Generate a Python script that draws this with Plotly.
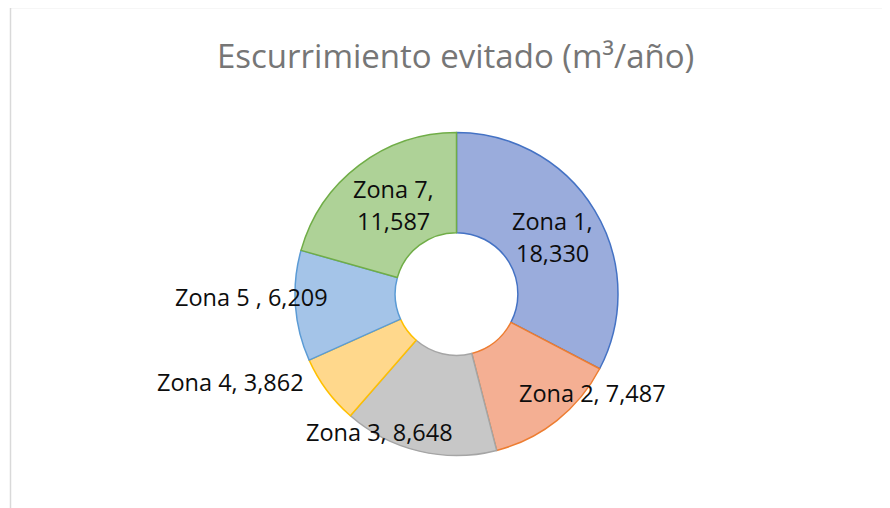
import plotly.graph_objects as go

# datos
zonas = ["Zona 1", "Zona 2", "Zona 3", "Zona 4", "Zona 5", "Zona 7"]
valores = [18330, 7487, 8648, 3862, 6209, 11587]
relleno = ["#9AACDC", "#F4AF93", "#C7C7C7", "#FFD88C", "#A4C4E8", "#AED297"]
borde = ["#4472C4", "#ED7D31", "#A5A5A5", "#FFC000", "#5B9BD5", "#70AD47"]

# posiciones de etiquetas (px en la ventana 890x508): lineas de texto
W, H = 890, 508
OFF = 8  # margen del body de la pagina
etiquetas = [
    (["Zona 1,", "18,330"], 552, [221, 253]),
    (["Zona 2, 7,487"], 592, [393]),
    (["Zona 3, 8,648"], 379, [432]),
    (["Zona 4, 3,862"], 230, [382]),
    (["Zona 5 , 6,209"], 251, [297]),
    (["Zona 7,", "11,587"], 393, [189, 221]),
]

cx, cy, r = 456.5 - OFF, 294 - OFF, 161.5


def px(x):
    return (x - OFF) / W


def py(y):
    return 1 - (y - OFF) / H


fig = go.Figure(go.Pie(
    labels=zonas,
    values=valores,
    hole=0.38,
    sort=False,
    direction="clockwise",
    rotation=0,
    textinfo="none",
    marker=dict(colors=relleno, line=dict(color=borde, width=1.5)),
    domain=dict(x=[(cx - r) / W, (cx + r) / W], y=[1 - (cy + r) / H, 1 - (cy - r) / H]),
    showlegend=False,
    hoverinfo="label+value",
))

for lineas, x, ys in etiquetas:
    for texto, y in zip(lineas, ys):
        fig.add_annotation(
            x=px(x), y=py(y), xref="paper", yref="paper",
            xanchor="center", yanchor="middle",
            text=texto, showarrow=False,
            font=dict(family="Open Sans", size=23.5, color="#0D0D0D"),
        )

fig.add_annotation(
    x=px(455), y=py(55), xref="paper", yref="paper",
    xanchor="center", yanchor="middle",
    text="Escurrimiento evitado (m³/año)", showarrow=False,
    font=dict(family="Open Sans", size=33, color="#767676"),
)

# marco del area del grafico
fig.add_shape(
    type="rect", xref="paper", yref="paper",
    x0=px(10.5), x1=1.1, y0=-0.1, y1=py(7.5),
    line=dict(color="#D9D9D9", width=1.5),
)

fig.update_layout(
    width=W, height=H,
    margin=dict(l=0, r=0, t=0, b=0),
    paper_bgcolor="white",
    plot_bgcolor="white",
)

fig.write_html("out.html")
